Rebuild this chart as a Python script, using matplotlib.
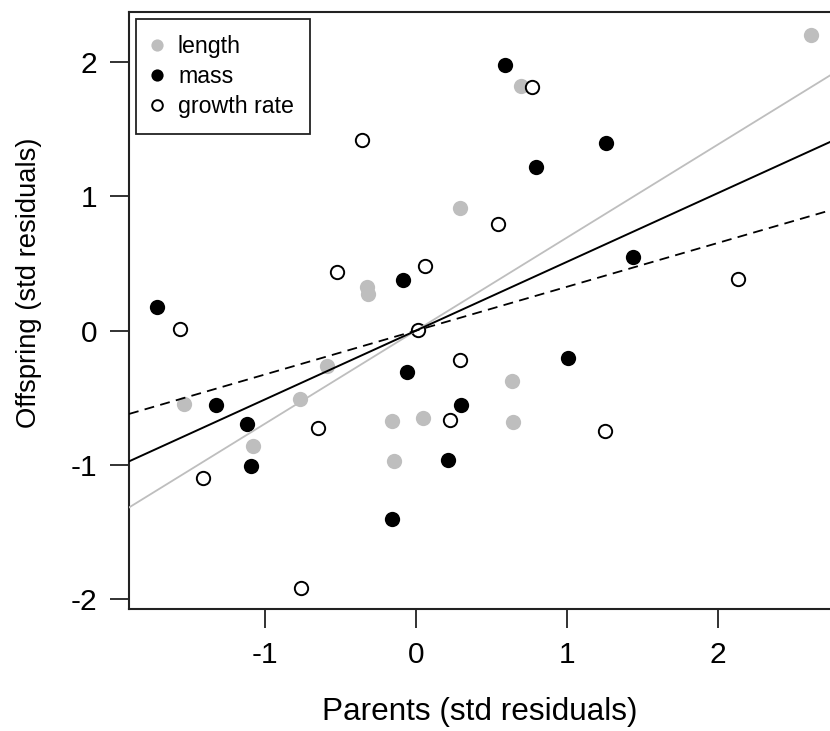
import matplotlib.pyplot as plt

plt.rcParams["font.family"] = ["Liberation Sans", "DejaVu Sans"]
plt.rcParams["axes.unicode_minus"] = False

# standardised residuals (parents, offspring)
length_x = [2.618, 0.693, 0.293, -0.323, -0.319, -0.590, -1.538, -0.766,
            -0.158, 0.046, -1.078, -0.143, 0.634, 0.642]
length_y = [2.207, 1.823, 0.913, 0.323, 0.274, -0.264, -0.547, -0.512,
            -0.672, -0.654, -0.863, -0.970, -0.373, -0.679]

mass_x = [0.587, 1.256, 0.792, 1.437, -1.714, -0.088, -0.062, -1.325,
          -1.120, -1.094, 0.209, -0.156, 1.008, 0.299]
mass_y = [1.978, 1.401, 1.219, 0.547, 0.179, 0.378, -0.311, -0.555,
          -0.699, -1.012, -0.963, -1.405, -0.204, -0.557]

growth_x = [0.770, -0.356, 0.541, 0.059, 2.134, -1.562, -0.521, 0.011,
            -0.647, 0.222, -1.410, -0.759, 0.290, 1.248]
growth_y = [1.816, 1.423, 0.791, 0.485, 0.386, 0.015, 0.435, 0.005,
            -0.726, -0.667, -1.097, -1.915, -0.216, -0.746]

# regression slopes (lines through the origin)
slope_length = 0.694
slope_mass = 0.513
slope_growth = 0.327

GREY = "#bebebe"
DARK = "#222222"


def main() -> None:
    fig = plt.figure(figsize=(8.3, 7.31), dpi=100)
    ax = fig.add_axes([0.1554, 0.1669, 0.8554, 0.8167])

    ms = 11
    ax.plot(length_x, length_y, "o", ms=ms, mfc=GREY, mec=GREY, mew=0,
            label="length", zorder=3)
    ax.plot(mass_x, mass_y, "o", ms=ms, mfc="black", mec="black", mew=0,
            label="mass", zorder=3)
    ax.plot(growth_x, growth_y, "o", ms=ms - 1.4, mfc="white", mec="black",
            mew=1.4, label="growth rate", zorder=3)

    ax.axline((0, 0), slope=slope_length, color=GREY, lw=1.3, zorder=4)
    ax.axline((0, 0), slope=slope_mass, color="black", lw=1.4, zorder=4)
    ax.axline((0, 0), slope=slope_growth, color="black", lw=1.3,
              dashes=(5.5, 3.5), zorder=4)

    ax.set_xlim(-1.90, 2.80)
    ax.set_ylim(-2.075, 2.375)
    ax.set_xticks([-1, 0, 1, 2])
    ax.set_yticks([-2, -1, 0, 1, 2])
    ax.tick_params(direction="out", length=14, width=1.3, labelsize=21.5,
                   color=DARK)
    ax.tick_params(axis="x", pad=9)
    ax.tick_params(axis="y", pad=9)
    for sp in ax.spines.values():
        sp.set_linewidth(1.5)
        sp.set_color(DARK)

    ax.set_xlabel("Parents (std residuals)", fontsize=22.7)
    ax.set_ylabel("Offspring (std residuals)", fontsize=19.7)
    ax.xaxis.set_label_coords(0.4937, -0.147)
    ax.yaxis.set_label_coords(-0.1225, 0.546)

    leg = ax.legend(loc="upper left", bbox_to_anchor=(0.0099, 0.988),
                    borderaxespad=0, fontsize=16.7, markerscale=0.8,
                    fancybox=False, frameon=True, handlelength=0.42,
                    handletextpad=0.69, labelspacing=0.29, borderpad=0.7)
    frame = leg.get_frame()
    frame.set_edgecolor(DARK)
    frame.set_linewidth(1.3)
    frame.set_alpha(1)

    fig.savefig("out.png", dpi=100)


if __name__ == "__main__":
    main()
